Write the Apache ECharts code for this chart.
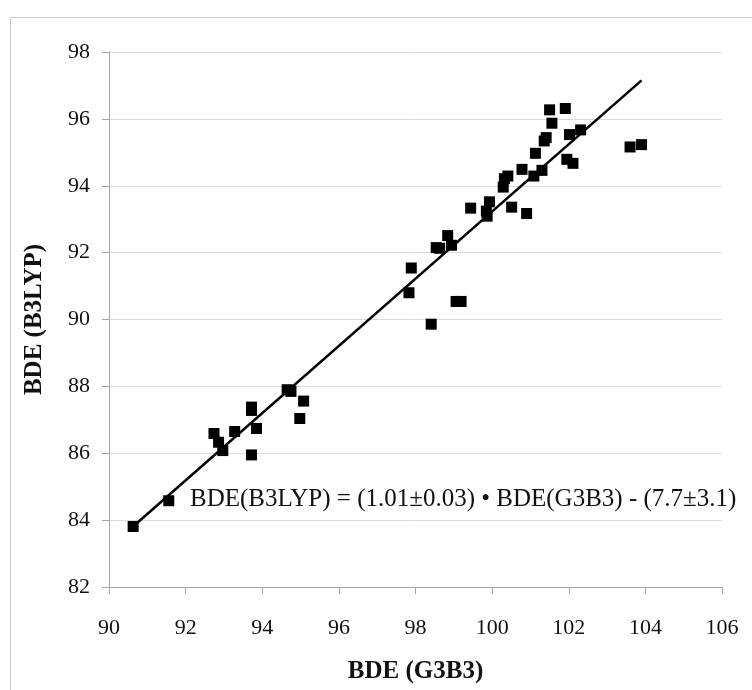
<!DOCTYPE html>
<html><head><meta charset="utf-8">
<script src="https://cdn.jsdelivr.net/npm/echarts@6/dist/echarts.min.js"></script>
<style>html,body{margin:0;padding:0;background:#fff}#c{width:752px;height:690px}</style>
</head><body><div id="c"></div>
<script>
var g3b3 = [101.50,101.91,101.56,101.41,101.36,102.02,102.31,103.60,103.90,101.13,101.95,102.11,100.78,101.30,101.09,100.41,100.32,100.29,99.93,99.44,99.85,99.87,100.51,100.90,98.84,98.63,98.94,98.54,97.89,97.83,99.06,99.19,98.41,94.65,94.75,95.08,94.98,93.72,93.72,93.85,93.72,93.28,92.74,92.86,92.97,91.56,90.63];
var b3lyp = [96.27,96.31,95.87,95.44,95.34,95.53,95.67,95.16,95.23,94.97,94.79,94.67,94.49,94.46,94.29,94.29,94.21,93.96,93.52,93.33,93.24,93.09,93.36,93.17,92.51,92.13,92.22,92.15,91.54,90.80,90.54,90.54,89.86,87.90,87.85,87.56,87.04,87.38,87.28,86.74,85.95,86.65,86.59,86.33,86.08,84.58,83.81];
var fitX = [90.62, 103.90];
var fitY = [83.80, 97.15];
var xTicks = [90,92,94,96,98,100,102,104,106];
var yTicks = [82,84,86,88,90,92,94,96,98];
var equation = 'BDE(B3LYP) = (1.01\u00b10.03) \u2022 BDE(G3B3) - (7.7\u00b13.1)';
var xTitle = 'BDE (G3B3)';
var yTitle = 'BDE (B3LYP)';

var pts = g3b3.map(function(x,i){return [x,b3lyp[i]];});
var fit = fitX.map(function(x,i){return [x,fitY[i]];});
var serif = '"Liberation Serif","Times New Roman",serif';
var chart = echarts.init(document.getElementById('c'), null, {renderer:'canvas'});
chart.setOption({
  animation:false,
  backgroundColor:'#fff',
  grid:{left:109,top:52,width:613,height:535,containLabel:false},
  xAxis:{type:'value',min:xTicks[0],max:xTicks[xTicks.length-1],interval:2,
    axisLine:{show:true,onZero:false,lineStyle:{color:'#a6a6a6',width:1}},
    axisTick:{show:true,length:7,lineStyle:{color:'#a6a6a6'}},
    axisLabel:{color:'#111',fontFamily:serif,fontSize:22,margin:30},
    splitLine:{show:false},
    name:xTitle,nameLocation:'middle',nameGap:72,
    nameTextStyle:{fontFamily:serif,fontSize:25,fontWeight:'bold',color:'#111'}},
  yAxis:{type:'value',min:yTicks[0],max:yTicks[yTicks.length-1],interval:2,
    axisLine:{show:true,onZero:false,lineStyle:{color:'#a6a6a6',width:1}},
    axisTick:{show:true,length:7,lineStyle:{color:'#a6a6a6'}},
    axisLabel:{color:'#111',fontFamily:serif,fontSize:22,margin:19},
    splitLine:{show:true,lineStyle:{color:'#d9d9d9',width:1}},
    name:yTitle,nameLocation:'middle',nameGap:62,nameRotate:90,
    nameTextStyle:{fontFamily:serif,fontSize:25,fontWeight:'bold',color:'#111'}},
  graphic:[
    {type:'rect',shape:{x:10.5,y:17.5,width:760,height:700},style:{fill:'none',stroke:'#c8c8c8',lineWidth:1},z:-1},
    {type:'text',left:190,top:487,style:{text:equation,fontFamily:serif,fontSize:25,fill:'#111'},z:10}
  ],
  series:[
    {type:'line',data:fit,symbol:'none',lineStyle:{color:'#000',width:2.5},z:2},
    {type:'scatter',data:pts,symbol:'rect',symbolSize:11,itemStyle:{color:'#000',opacity:1},z:3}
  ]
});
</script></body></html>
